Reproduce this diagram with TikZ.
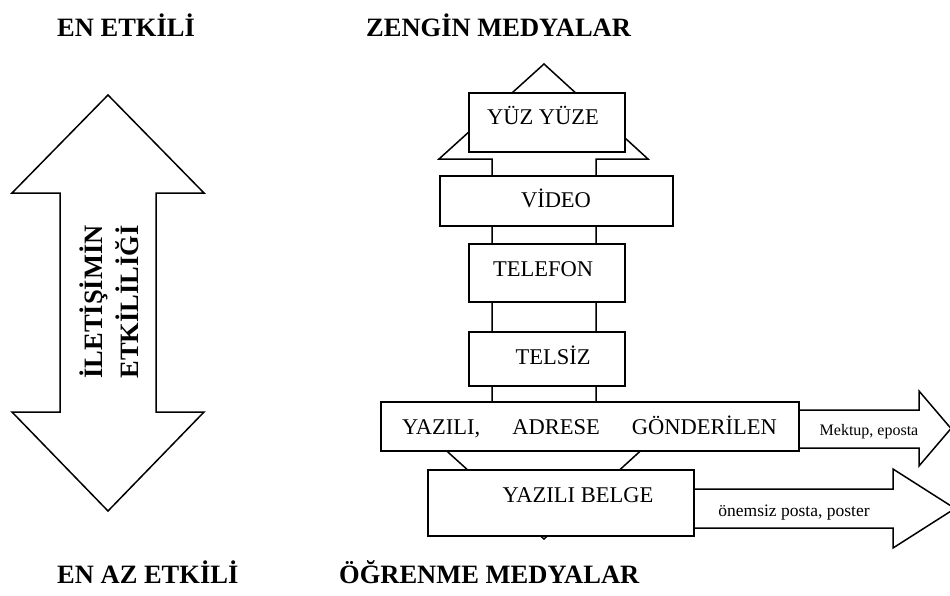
\documentclass[tikz,border=0pt]{standalone}
\usepackage{fontspec}
\setmainfont{Liberation Serif}
\usetikzlibrary{positioning}

\tikzset{
  box/.style={draw, fill=white, line width=1.5pt, inner sep=0pt},
  blk/.style={draw, fill=white, line width=1.5pt, line join=miter},
  baslik/.style={font=\fontsize{26.5}{36}\selectfont\bfseries, inner sep=0pt},
  yazi/.style={font=\fontsize{22.5}{26}\selectfont, inner sep=0pt},
}

\begin{document}
\begin{tikzpicture}[x=1pt,y=-1pt]
                \useasboundingbox (0,0) rectangle (950,595);

                % sol ok
                \draw[blk] (108,95) -- (204,193) -- (156,193) -- (156,412) -- (204,412) -- (108,511)
                        -- (12,412) -- (60,412) -- (60,193) -- (12,193) -- cycle;
                \node[baslik, rotate=90, align=center] (etki) at (109,302) {İLETİŞİMİN\\ETKİLİLİĞİ};

                % orta ok
                \draw[blk] (544,64) -- (648,159) -- (596,159) -- (596,444) -- (648,444) -- (544,539)
                        -- (439,444) -- (492,444) -- (492,159) -- (439,159) -- cycle;

                % sag oklar
                \draw[blk] (799,410) -- (919,410) -- (919,391) -- (951,428.5) -- (919,466) -- (919,448) -- (799,448);
                \draw[blk] (694,489) -- (893,489) -- (893,469) -- (955,508.5) -- (893,548) -- (893,528) -- (694,528);

                % kutular
                \node[box, minimum width=156, minimum height=59] (yuz) at (547,122.5) {};
                \node[box, minimum width=233, minimum height=50] (video) at (556.5,201) {};
                \node[box, minimum width=156, minimum height=58] (tel) at (547,273) {};
                \node[box, minimum width=156, minimum height=54] (telsiz) at (547,359) {};
                \node[box, minimum width=418, minimum height=49] (adres) at (590,426.5) {};
                \node[box, minimum width=266, minimum height=66] (belge) at (561,503) {};

                \node[yazi, anchor=base] (yuzt) at (543,124.5) {YÜZ YÜZE};
                \node[yazi, anchor=base] (videot) at (556,207.5) {VİDEO};
                \node[yazi, anchor=base] (telt) at (543,276.5) {TELEFON};
                \node[yazi, anchor=base] (telsizt) at (553,364.5) {TELSİZ};
                \node[yazi, anchor=base west] (adrest) at (402,434.5) {YAZILI,\hskip 32pt ADRESE\hskip 32pt GÖNDERİLEN};
                \node[yazi, anchor=base] (belget) at (578,502.5) {YAZILI BELGE};

                \node[font=\fontsize{16}{18}\selectfont, anchor=base] (mektup) at (869,435) {Mektup, eposta};
                \node[font=\fontsize{17.5}{20}\selectfont, anchor=base] (poster) at (794,516) {önemsiz posta, poster};

                % basliklar
                \node[baslik, anchor=base west] (enetkili) at (57,36) {EN ETKİLİ};
                \node[baslik, anchor=base west] (zengin) at (366,36) {ZENGİN MEDYALAR};
                \node[baslik, anchor=base west] (enaz) at (57,583) {EN AZ ETKİLİ};
                \node[baslik, anchor=base west] (ogrenme) at (339,583) {ÖĞRENME MEDYALAR};
\end{tikzpicture}
\end{document}
